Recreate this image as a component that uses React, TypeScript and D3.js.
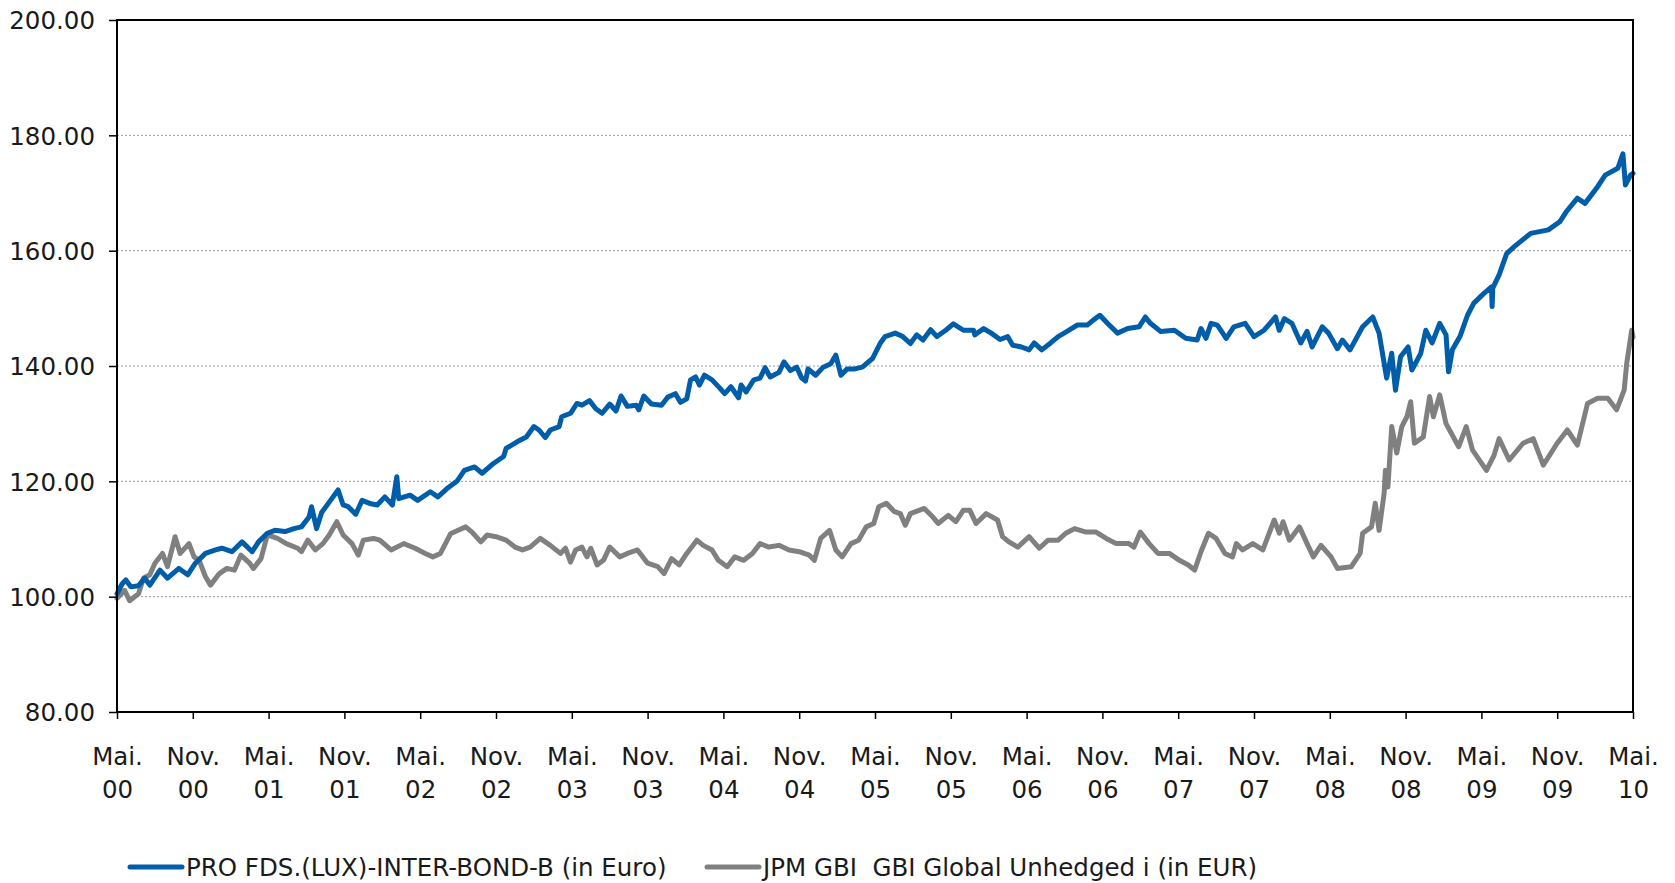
import { useEffect, useRef } from "react";
import * as d3 from "d3";

// months after Mai 2000 -> value
const fundMonths = [0, 0.4, 0.7, 1.1, 1.7, 2.2, 2.6, 3.4, 4.0, 4.9, 5.6, 6.2, 7.0, 7.8, 8.3, 9.1, 9.9, 10.7, 11.2, 11.9, 12.5, 13.3, 14.0, 14.6, 15.2, 15.4, 15.8, 16.2, 16.9, 17.5, 17.9, 18.3, 18.9, 19.4, 20.1, 20.6, 21.2, 21.8, 22.15, 22.3, 23.2, 23.8, 24.8, 25.4, 26.1, 26.9, 27.5, 28.3, 28.9, 29.8, 30.6, 30.8, 31.7, 32.4, 33.0, 33.4, 33.9, 34.3, 35.0, 35.2, 35.9, 36.4, 36.8, 37.4, 37.9, 38.4, 39.0, 39.5, 39.9, 40.4, 41.1, 41.3, 41.7, 42.3, 43.1, 43.6, 44.2, 44.6, 45.1, 45.4, 45.8, 46.1, 46.5, 47.1, 47.7, 48.1, 48.6, 49.2, 49.4, 49.8, 50.4, 50.9, 51.3, 51.7, 52.4, 52.8, 53.3, 53.8, 54.2, 54.5, 54.7, 55.3, 55.9, 56.5, 56.9, 57.3, 57.8, 58.4, 59.0, 59.8, 60.4, 60.8, 61.6, 62.2, 62.8, 63.3, 63.8, 64.4, 64.9, 65.6, 66.2, 67.0, 67.8, 67.9, 68.6, 69.2, 69.9, 70.5, 70.9, 71.6, 72.2, 72.6, 73.2, 73.9, 74.5, 75.2, 76.0, 76.8, 77.3, 77.8, 78.4, 79.2, 80.0, 80.9, 81.4, 81.8, 82.6, 83.7, 84.6, 85.5, 85.8, 86.2, 86.6, 87.1, 87.8, 88.4, 89.3, 90.0, 90.8, 91.7, 92.0, 92.4, 93.0, 93.7, 94.2, 94.6, 95.4, 95.9, 96.6, 97.0, 97.6, 98.6, 99.4, 99.9, 100.5, 100.9, 101.2, 101.6, 102.2, 102.5, 103.2, 103.6, 104.1, 104.7, 105.2, 105.4, 105.7, 106.3, 106.9, 107.4, 108.2, 108.8, 108.85, 108.9, 109.4, 110.0, 110.6, 111.9, 113.3, 114.2, 114.7, 115.6, 116.2, 117.2, 117.8, 118.8, 119.2, 119.4, 119.8, 120.0];
const fundValues = [100.5, 102.2, 102.9, 101.7, 101.9, 103.2, 102.0, 104.6, 103.2, 104.9, 103.8, 105.8, 107.5, 108.1, 108.4, 107.8, 109.5, 107.8, 109.5, 111.0, 111.5, 111.3, 111.8, 112.1, 113.8, 115.6, 111.8, 114.6, 116.7, 118.5, 115.9, 115.6, 114.3, 116.7, 116.1, 115.9, 117.3, 115.9, 120.8, 117.0, 117.6, 116.7, 118.2, 117.3, 118.7, 120.0, 121.9, 122.5, 121.4, 123.1, 124.3, 125.7, 126.9, 127.7, 129.5, 128.9, 127.6, 128.9, 129.5, 131.2, 131.8, 133.5, 133.2, 134.0, 132.6, 131.8, 133.4, 132.2, 134.8, 133.0, 133.2, 132.4, 134.8, 133.4, 133.2, 134.6, 135.2, 133.7, 134.3, 137.6, 138.1, 136.7, 138.4, 137.6, 136.2, 135.2, 136.4, 134.5, 136.7, 135.5, 137.6, 137.9, 139.7, 138.1, 138.9, 140.7, 139.2, 139.8, 137.9, 137.4, 139.5, 138.4, 139.8, 140.4, 141.9, 138.4, 139.5, 139.5, 139.8, 141.3, 143.9, 145.1, 145.7, 145.1, 143.9, 145.4, 144.5, 146.3, 145.1, 146.2, 147.3, 146.2, 146.2, 145.4, 146.5, 145.7, 144.6, 145.1, 143.6, 143.3, 142.8, 144.0, 142.8, 144.0, 145.1, 146.0, 147.1, 147.1, 148.0, 148.8, 147.4, 145.7, 146.5, 146.8, 148.5, 147.4, 146.0, 146.2, 144.8, 144.5, 146.5, 144.8, 147.4, 147.1, 144.8, 146.8, 147.4, 145.1, 146.2, 148.5, 146.2, 148.2, 147.4, 144.0, 146.0, 143.3, 146.8, 145.7, 143.0, 144.5, 142.8, 146.8, 148.5, 145.7, 137.9, 142.2, 135.8, 141.6, 143.3, 139.3, 142.2, 146.2, 144.0, 147.4, 145.4, 139.0, 142.8, 145.1, 148.8, 150.9, 152.6, 153.7, 150.3, 153.5, 155.8, 159.5, 160.7, 163.0, 163.6, 165.0, 166.7, 169.1, 168.2, 171.1, 173.1, 174.3, 176.8, 171.4, 173.1, 173.4];

const benchMonths = [0, 0.6, 1.0, 1.7, 2.1, 2.6, 3.0, 3.6, 4.0, 4.6, 5.0, 5.7, 6.1, 6.5, 7.0, 7.4, 8.1, 8.7, 9.3, 9.8, 10.5, 10.8, 11.4, 11.9, 12.7, 13.4, 14.3, 14.6, 15.1, 15.7, 16.3, 16.8, 17.4, 17.9, 18.6, 19.1, 19.5, 20.3, 20.8, 21.7, 22.7, 23.6, 24.4, 25.0, 25.6, 26.0, 26.4, 27.0, 27.6, 28.1, 28.8, 29.3, 30.0, 30.8, 31.5, 32.1, 32.7, 33.5, 34.3, 35.1, 35.5, 35.9, 36.3, 36.8, 37.2, 37.5, 38.0, 38.5, 39.0, 39.8, 40.4, 41.2, 42.0, 42.8, 43.3, 43.9, 44.5, 45.1, 45.9, 46.4, 47.1, 47.6, 48.3, 48.9, 49.6, 50.3, 50.9, 51.6, 52.4, 53.2, 54.0, 54.8, 55.2, 55.7, 56.4, 56.9, 57.4, 58.1, 58.7, 59.3, 59.9, 60.3, 60.9, 61.5, 62.0, 62.4, 62.8, 63.9, 64.5, 65.0, 65.8, 66.4, 67.0, 67.5, 68.0, 68.8, 69.7, 70.1, 70.6, 71.3, 72.2, 73.0, 73.7, 74.5, 75.1, 75.8, 76.7, 77.5, 78.3, 79.1, 80.1, 80.5, 81.0, 81.7, 82.4, 83.3, 84.1, 84.8, 85.3, 85.8, 86.4, 87.0, 87.7, 88.3, 88.6, 89.1, 89.9, 90.7, 91.1, 91.6, 92.0, 92.3, 92.8, 93.6, 94.2, 94.7, 95.3, 96.1, 96.6, 97.7, 98.4, 98.6, 99.3, 99.6, 99.9, 100.3, 100.4, 100.6, 100.9, 101.3, 101.7, 102.1, 102.4, 102.7, 103.4, 103.9, 104.2, 104.7, 105.2, 106.2, 106.8, 107.3, 108.4, 109.0, 109.4, 110.2, 111.3, 112.1, 112.9, 114.0, 114.8, 115.6, 116.4, 117.2, 118.0, 118.7, 119.3, 119.5, 119.9, 120.0];
const benchValues = [99.7, 101.1, 99.3, 100.5, 103.2, 103.8, 105.8, 107.5, 105.2, 110.4, 107.5, 109.2, 106.9, 106.3, 103.5, 102.0, 104.0, 104.9, 104.6, 107.2, 105.8, 104.9, 106.6, 110.7, 110.1, 109.2, 108.4, 107.8, 109.8, 108.1, 109.2, 110.7, 113.0, 110.7, 109.2, 107.2, 109.8, 110.1, 109.8, 108.1, 109.2, 108.4, 107.5, 106.9, 107.5, 109.2, 110.9, 111.5, 112.1, 111.2, 109.5, 110.7, 110.4, 109.8, 108.6, 108.1, 108.6, 110.1, 108.9, 107.5, 108.4, 106.0, 108.1, 108.6, 106.9, 108.4, 105.5, 106.3, 108.6, 106.9, 107.5, 108.1, 105.8, 105.2, 104.0, 106.6, 105.5, 107.5, 109.8, 108.9, 108.1, 106.3, 105.2, 106.9, 106.3, 107.5, 109.2, 108.6, 108.9, 108.1, 107.8, 107.2, 106.3, 110.1, 111.5, 108.1, 106.9, 109.2, 109.8, 112.1, 112.7, 115.6, 116.2, 114.8, 114.4, 112.4, 114.4, 115.3, 114.0, 112.7, 114.1, 113.0, 115.0, 115.0, 112.7, 114.4, 113.3, 110.4, 109.5, 108.6, 110.4, 108.4, 109.8, 109.8, 111.0, 111.8, 111.2, 111.2, 110.1, 109.2, 109.2, 108.6, 111.2, 109.2, 107.5, 107.5, 106.3, 105.5, 104.6, 107.8, 111.0, 110.1, 107.5, 106.9, 109.2, 108.1, 109.2, 108.1, 110.4, 113.3, 111.0, 113.0, 109.8, 112.1, 109.2, 106.9, 108.9, 106.9, 104.9, 105.2, 107.5, 111.0, 112.1, 116.2, 111.5, 117.9, 121.9, 119.0, 129.5, 124.9, 129.5, 131.2, 133.8, 126.6, 127.7, 134.7, 131.2, 135.0, 130.0, 126.0, 129.5, 125.4, 121.9, 124.5, 127.4, 123.7, 126.6, 127.4, 122.8, 126.6, 128.9, 126.3, 133.5, 134.4, 134.4, 132.4, 135.8, 140.4, 146.2, 145.0];

const monthLabels = ["Mai.", "Nov."];
const yearLabels = ["00", "00", "01", "01", "02", "02", "03", "03", "04", "04", "05", "05", "06", "06", "07", "07", "08", "08", "09", "09", "10"];
const yTicks = [80, 100, 120, 140, 160, 180, 200];

const seriesNames = ["PRO FDS.(LUX)-INTER-BOND-B (in Euro)", "JPM GBI  GBI Global Unhedged i (in EUR)"];
const seriesColors = ["#005DA9", "#808080"];

const FONT = "'DejaVu Sans', sans-serif";
const FONT_SIZE = "24.5px";

export default function App() {
  const svgRef = useRef<SVGSVGElement | null>(null);

  useEffect(() => {
    const width = 1675;
    const height = 883;
    const margin = { top: 20, right: 42, bottom: 171, left: 117 };

    const svg = d3.select(svgRef.current);
    svg.selectAll("*").remove();

    const x = d3.scaleLinear().domain([0, 120]).range([margin.left, width - margin.right]);
    const y = d3.scaleLinear().domain([80, 200]).range([height - margin.bottom, margin.top]);

    // grid
    svg
      .append("g")
      .selectAll("line")
      .data(yTicks.slice(1, -1))
      .join("line")
      .attr("x1", margin.left)
      .attr("x2", width - margin.right)
      .attr("y1", (d) => y(d))
      .attr("y2", (d) => y(d))
      .attr("stroke", "#9a9a9a")
      .attr("stroke-width", 1)
      .attr("stroke-dasharray", "2,2");

    const line = d3
      .line<[number, number]>()
      .x((d) => x(d[0]))
      .y((d) => y(d[1]));

    const series = [
      d3.zip(benchMonths, benchValues) as [number, number][],
      d3.zip(fundMonths, fundValues) as [number, number][],
    ];
    const colors = [seriesColors[1], seriesColors[0]];

    series.forEach((s, i) => {
      svg
        .append("path")
        .datum(s)
        .attr("d", line)
        .attr("fill", "none")
        .attr("stroke", colors[i])
        .attr("stroke-width", 5)
        .attr("stroke-linejoin", "round")
        .attr("stroke-linecap", "round");
    });

    // frame
    svg
      .append("rect")
      .attr("x", margin.left)
      .attr("y", margin.top)
      .attr("width", width - margin.left - margin.right)
      .attr("height", height - margin.top - margin.bottom)
      .attr("fill", "none")
      .attr("stroke", "#000")
      .attr("stroke-width", 2);

    const yAxis = svg
      .append("g")
      .attr("transform", `translate(${margin.left},0)`)
      .call(
        d3
          .axisLeft(y)
          .tickValues(yTicks)
          .tickSize(8)
          .tickPadding(14)
          .tickFormat((d) => d3.format(".2f")(d as number))
      );
    yAxis.select(".domain").remove();
    yAxis.selectAll("line").attr("stroke", "#000").attr("stroke-width", 1.5);
    yAxis
      .selectAll("text")
      .attr("fill", "#1a1a1a")
      .style("font-family", FONT)
      .style("font-size", FONT_SIZE)
      .attr("dy", "0.36em");

    const xTicks = d3.range(0, 121, 6);
    const xAxis = svg
      .append("g")
      .attr("transform", `translate(0,${height - margin.bottom})`)
      .call(d3.axisBottom(x).tickValues(xTicks).tickSize(7).tickFormat(() => ""));
    xAxis.select(".domain").remove();
    xAxis.selectAll("line").attr("stroke", "#000").attr("stroke-width", 1.5);

    const labels = xAxis.selectAll<SVGGElement, number>(".tick").append("text");
    labels
      .attr("fill", "#1a1a1a")
      .attr("text-anchor", "middle")
      .style("font-family", FONT)
      .style("font-size", FONT_SIZE);
    labels
      .append("tspan")
      .attr("x", 0)
      .attr("y", 53)
      .text((d, i) => monthLabels[i % 2]);
    labels
      .append("tspan")
      .attr("x", 0)
      .attr("y", 86)
      .text((d, i) => yearLabels[i]);

    // legend
    const legendX = [130, 707];
    const legend = svg.append("g").attr("transform", `translate(0,867)`);
    seriesNames.forEach((name, i) => {
      legend
        .append("line")
        .attr("x1", legendX[i])
        .attr("x2", legendX[i] + 52)
        .attr("y1", 0)
        .attr("y2", 0)
        .attr("stroke", seriesColors[i])
        .attr("stroke-width", 5)
        .attr("stroke-linecap", "round");
      legend
        .append("text")
        .attr("x", legendX[i] + 56)
        .attr("y", 0)
        .attr("dy", "0.36em")
        .attr("fill", "#1a1a1a")
        .style("font-family", FONT)
        .style("font-size", FONT_SIZE)
        .style("white-space", "pre")
        .text(name);
    });
  }, []);

  return (
    <svg
      ref={svgRef}
      width={1675}
      height={883}
      style={{ position: "absolute", left: 0, top: 0, background: "#fff" }}
    />
  );
}
